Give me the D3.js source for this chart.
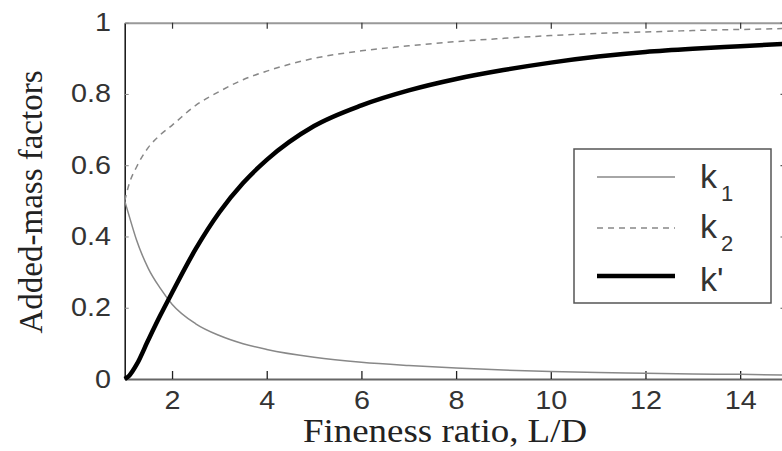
<!DOCTYPE html>
<html>
<head>
<meta charset="utf-8">
<script src="https://cdn.jsdelivr.net/npm/d3@7"></script>
<style>
  html, body { margin: 0; padding: 0; background: #fff; }
  #chart { width: 782px; height: 451px; }
</style>
</head>
<body>
<div id="chart"></div>
<script>
// values
const ldRatio = [1, 1.1, 1.25, 1.5, 1.75, 2, 2.5, 3, 3.5, 4, 5, 6, 7, 8, 9, 10, 11, 12, 13, 14, 15];
const k1 = [0.5, 0.455, 0.39, 0.31, 0.255, 0.21, 0.155, 0.122, 0.099, 0.083, 0.061, 0.047, 0.038, 0.031, 0.025, 0.021, 0.018, 0.016, 0.014, 0.013, 0.011];
const k2 = [0.5, 0.55, 0.595, 0.65, 0.685, 0.712, 0.768, 0.807, 0.84, 0.864, 0.9, 0.921, 0.935, 0.947, 0.956, 0.964, 0.97, 0.974, 0.978, 0.981, 0.984];
const kPrime = [0, 0.01, 0.04, 0.11, 0.178, 0.242, 0.365, 0.468, 0.55, 0.615, 0.71, 0.768, 0.81, 0.842, 0.867, 0.888, 0.905, 0.918, 0.927, 0.934, 0.941];
const xTicks = [2, 4, 6, 8, 10, 12, 14];
const yTicks = [0, 0.2, 0.4, 0.6, 0.8, 1];

function drawAddedMassChart() {
    const width = 782, height = 451;
    const left = 124.7, right = 787.5, top = 22.7, bottom = 379;

    const svg = d3.select('#chart')
        .append('svg')
        .attr('width', width)
        .attr('height', height);

    const x = d3.scaleLinear().domain([1, 15]).range([left, right]);
    const y = d3.scaleLinear().domain([0, 1]).range([bottom, top]);

    const sansFont = '"Liberation Sans", Arial, sans-serif';
    const serifFont = '"Liberation Serif", "Times New Roman", serif';

    // top axis (grey, inward ticks, no labels)
    const topAxis = svg.append('g')
        .attr('transform', `translate(0,${top})`)
        .call(d3.axisTop(x).tickValues(xTicks).tickSizeInner(-6).tickSizeOuter(0).tickFormat(''));
    topAxis.select('.domain').attr('stroke', '#999').attr('stroke-width', 2);
    topAxis.selectAll('.tick line').attr('stroke', '#333').attr('stroke-width', 1.2);

    // right axis (mostly off-screen, only ticks peek in)
    const rightAxis = svg.append('g')
        .attr('transform', `translate(${right},0)`)
        .call(d3.axisRight(y).tickValues(yTicks).tickSizeInner(-7).tickSizeOuter(0).tickFormat(''));
    rightAxis.select('.domain').attr('stroke', '#555').attr('stroke-width', 1.5);
    rightAxis.selectAll('.tick line').attr('stroke', '#555').attr('stroke-width', 1.2);

    // bottom axis
    const bottomAxis = svg.append('g')
        .attr('transform', `translate(0,${bottom})`)
        .call(d3.axisBottom(x).tickValues(xTicks).tickSizeInner(-8).tickSizeOuter(0).tickPadding(12));
    bottomAxis.select('.domain').attr('stroke', '#666').attr('stroke-width', 2);
    bottomAxis.selectAll('.tick line').attr('stroke', '#222').attr('stroke-width', 1.3);
    bottomAxis.selectAll('text')
        .attr('transform', 'scale(1.15,1)')
        .style('font-family', sansFont)
        .style('font-size', '25px')
        .style('fill', '#333');

    // left axis
    const leftAxis = svg.append('g')
        .attr('transform', `translate(${left},0)`)
        .call(d3.axisLeft(y).tickValues(yTicks).tickSizeInner(-4).tickSizeOuter(0).tickPadding(12)
            .tickFormat(d => d === 0 ? '0' : d === 1 ? '1' : d.toFixed(1)));
    leftAxis.select('.domain').attr('stroke', '#111').attr('stroke-width', 1.5);
    leftAxis.selectAll('.tick line').attr('stroke', '#888').attr('stroke-width', 1);
    leftAxis.selectAll('text')
        .attr('transform', 'scale(1.15,1)')
        .style('font-family', sansFont)
        .style('font-size', '25px')
        .style('fill', '#333');

    // curves
    const line = ys => d3.line()
        .x((d, i) => x(ldRatio[i]))
        .y((d, i) => y(ys[i]))
        .curve(d3.curveMonotoneX)(ys);

    svg.append('path')
        .attr('d', line(k1))
        .attr('fill', 'none')
        .attr('stroke', '#888')
        .attr('stroke-width', 1.5);

    svg.append('path')
        .attr('d', line(k2))
        .attr('fill', 'none')
        .attr('stroke', '#888')
        .attr('stroke-width', 1.5)
        .attr('stroke-dasharray', '6,5');

    svg.append('path')
        .attr('d', line(kPrime))
        .attr('fill', 'none')
        .attr('stroke', '#000')
        .attr('stroke-width', 4.5);

    // axis titles
    svg.append('text')
        .attr('transform', `translate(445,442) scale(1.12,1)`)
        .attr('text-anchor', 'middle')
        .style('font-family', serifFont)
        .style('font-size', '33px')
        .style('fill', '#222')
        .text('Fineness ratio, L/D');

    svg.append('text')
        .attr('transform', 'rotate(-90)')
        .attr('x', -202)
        .attr('y', 42)
        .attr('text-anchor', 'middle')
        .style('font-family', serifFont)
        .style('font-size', '33px')
        .style('fill', '#222')
        .text('Added-mass factors');

    // legend
    const legend = svg.append('g');
    legend.append('rect')
        .attr('x', 574)
        .attr('y', 149)
        .attr('width', 197)
        .attr('height', 154)
        .attr('fill', '#fff')
        .attr('stroke', '#555')
        .attr('stroke-width', 1.5);

    const legendData = [
        { name: 'k', sub: '1', stroke: '#888', w: 1.5, dash: null, ly: 177, ty: 188 },
        { name: 'k', sub: '2', stroke: '#888', w: 1.5, dash: '6,5', ly: 228, ty: 238 },
        { name: "k'", sub: '', stroke: '#000', w: 4.5, dash: null, ly: 276, ty: 291 }
    ];

    legend.selectAll('.legend-item')
        .data(legendData)
        .enter()
        .append('g')
        .attr('class', 'legend-item')
        .each(function (d) {
            const g = d3.select(this);
            g.append('line')
                .attr('x1', 597)
                .attr('x2', 675)
                .attr('y1', d.ly)
                .attr('y2', d.ly)
                .attr('stroke', d.stroke)
                .attr('stroke-width', d.w)
                .attr('stroke-dasharray', d.dash);
            const t = g.append('text')
                .attr('x', 700)
                .attr('y', d.ty)
                .style('font-family', sansFont)
                .style('font-size', '34px')
                .style('fill', '#333');
            t.append('tspan').text(d.name);
            if (d.sub) {
                t.append('tspan')
                    .attr('dx', 4)
                    .attr('dy', 13)
                    .style('font-size', '22px')
                    .text(d.sub);
            }
        });
}

drawAddedMassChart();
</script>
</body>
</html>
